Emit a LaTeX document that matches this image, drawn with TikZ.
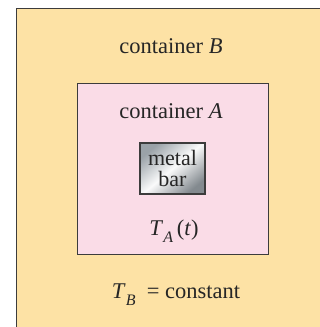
\documentclass[tikz,border=0pt]{standalone}
\usepackage{fontspec}
\setmainfont{Liberation Serif}
\usetikzlibrary{positioning}
\definecolor{outerfill}{HTML}{FDE2A5}
\definecolor{innerfill}{HTML}{FADCE7}
\definecolor{edge}{HTML}{3C3C3C}
\definecolor{steel}{HTML}{9AA2A8}
\newcommand{\bigtext}{\fontsize{22.5}{20}\selectfont}
\newcommand{\subtext}[1]{\raisebox{-0.33em}{\fontsize{16}{16}\selectfont\textit{#1}}}
\tikzset{
  container/.style={draw=edge, line width=0.9pt, inner sep=0pt},
  bar/.style={draw=edge, line width=1.1pt, inner sep=0pt, minimum width=65pt, minimum height=51pt,
    top color=steel, bottom color=steel!85!black, middle color=white!95!steel, shading angle=40,
    align=center, font=\fontsize{22}{21.5}\selectfont, text=black!85},
  lab/.style={font=\bigtext, anchor=base, text=black!85, inner sep=0pt},
}
\begin{document}
\begin{tikzpicture}[x=1pt, y=-1pt]
    \clip (0,0) rectangle (320,327);
    \fill[white] (0,0) rectangle (320,327);
    \node[container, fill=outerfill, minimum width=330pt, minimum height=340pt] (cB) at (181,178) {};
    \node[container, fill=innerfill, minimum width=191pt, minimum height=171pt] (cA) at (172.5,168.5) {};
    \node[bar] (mb) at (cA.center) {metal\\bar};
    \node[lab] (labB) at (171,53) {container \textit{B}};
    \node[lab] (labA) at (171,118) {container \textit{A}};
    \node[lab] (tA) at (174,235) {\textit{T}\subtext{A}\,(\textit{t})};
    \node[lab] (tB) at (176,298) {\textit{T}\subtext{B}\ \ = constant};
\end{tikzpicture}
\end{document}
